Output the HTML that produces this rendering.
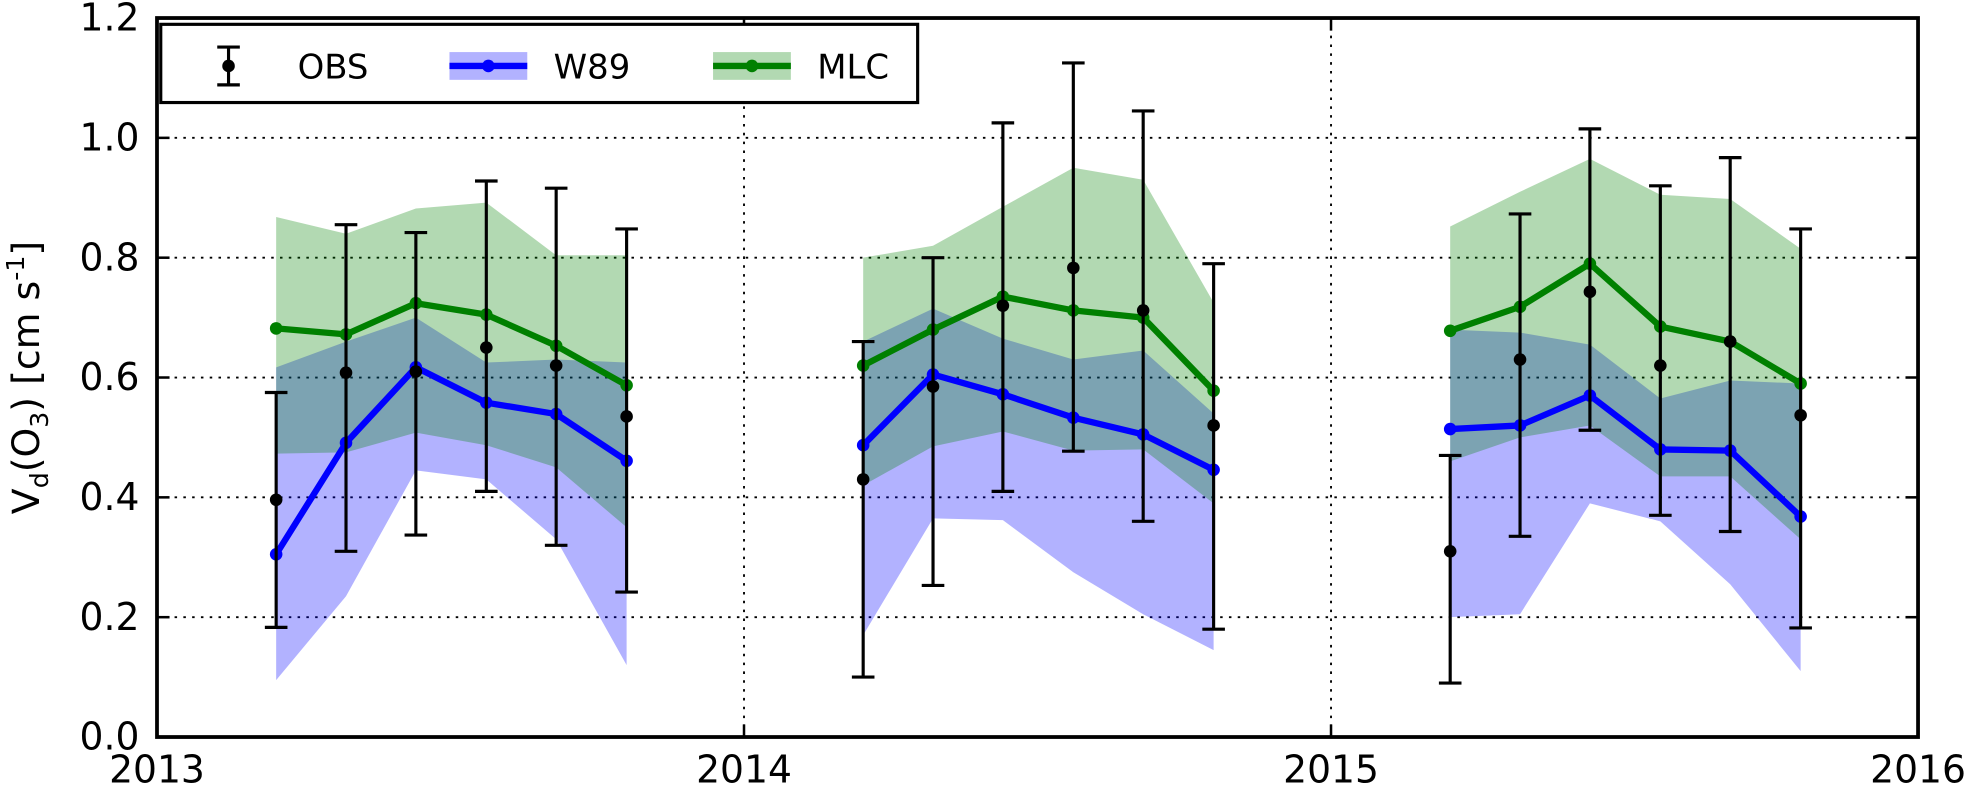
<!DOCTYPE html>
<html><head><meta charset="utf-8"><style>
body{margin:0;background:#fff}
svg{display:block;font-family:"DejaVu Sans","Liberation Sans",sans-serif}
</style></head><body>
<svg id="chart" width="1968" height="786" viewBox="0 0 1968 786">
<g transform="translate(1.35,-0.9) scale(1.2552,1.2614)">
<g id="grid"></g>
<g id="bands"></g>
<g id="lines"></g>
<g id="obs"></g>
<rect x="124" y="15" width="1403" height="570" fill="none" stroke="#000" stroke-width="3"/>
<g id="ticks"></g>
<text transform="translate(30,300) rotate(-90)" text-anchor="middle" font-size="30">V<tspan font-size="20" dy="7">d</tspan><tspan dy="-7">(O</tspan><tspan font-size="20" dy="7">3</tspan><tspan dy="-7">) [cm s</tspan><tspan font-size="20" dy="-12">-1</tspan><tspan dy="12">]</tspan></text>
<g>
<rect x="127" y="20" width="603" height="62" fill="#fff" stroke="#000" stroke-width="2.5"/>
<g>
<line x1="181" y1="38" x2="181" y2="68" stroke="#000" stroke-width="2.5"/><line x1="172" y1="38" x2="190" y2="38" stroke="#000" stroke-width="2.5"/><line x1="172" y1="68" x2="190" y2="68" stroke="#000" stroke-width="2.5"/><circle cx="181" cy="53" r="5"/>
<text x="236" y="63" font-size="27">OBS</text></g>
<g>
<rect x="357" y="42" width="62" height="22" fill="#0000ff" fill-opacity="0.3"/><line x1="357" y1="53" x2="419" y2="53" stroke="#0000ff" stroke-width="5"/><circle cx="388" cy="53" r="5" fill="#0000ff"/>
<text x="440" y="63" font-size="27">W89</text></g>
<g>
<rect x="567" y="42" width="62" height="22" fill="#008000" fill-opacity="0.3"/><line x1="567" y1="53" x2="629" y2="53" stroke="#008000" stroke-width="5"/><circle cx="598" cy="53" r="5" fill="#008000"/>
<text x="650" y="63" font-size="27">MLC</text></g>
</g>
</g>
</svg>
<script>
const years=[2013,2014,2015];
const monthOffsets=[0.203,0.322,0.441,0.561,0.680,0.800];
const mlc=[[0.682,0.672,0.724,0.705,0.653,0.587],[0.62,0.68,0.735,0.712,0.70,0.578],[0.678,0.718,0.79,0.685,0.66,0.59]];
const mlcHi=[[0.868,0.84,0.882,0.892,0.804,0.804],[0.80,0.82,0.885,0.95,0.93,0.725],[0.852,0.91,0.965,0.905,0.898,0.815]];
const mlcLo=[[0.473,0.475,0.508,0.487,0.45,0.35],[0.42,0.485,0.51,0.478,0.48,0.39],[0.46,0.50,0.52,0.435,0.435,0.33]];
const w89=[[0.305,0.491,0.617,0.558,0.539,0.461],[0.487,0.605,0.572,0.533,0.505,0.446],[0.514,0.52,0.57,0.48,0.478,0.368]];
const w89Hi=[[0.617,0.66,0.70,0.625,0.63,0.625],[0.66,0.715,0.665,0.63,0.645,0.54],[0.68,0.675,0.655,0.565,0.595,0.59]];
const w89Lo=[[0.095,0.235,0.445,0.43,0.33,0.12],[0.17,0.365,0.362,0.275,0.205,0.145],[0.20,0.205,0.39,0.36,0.255,0.11]];
const obs=[[0.396,0.608,0.61,0.65,0.62,0.535],[0.43,0.585,0.72,0.783,0.712,0.52],[0.31,0.63,0.743,0.62,0.66,0.537]];
const obsHi=[[0.575,0.855,0.842,0.928,0.916,0.848],[0.66,0.80,1.025,1.125,1.045,0.79],[0.47,0.873,1.015,0.92,0.967,0.848]];
const obsLo=[[0.183,0.31,0.337,0.41,0.32,0.242],[0.10,0.253,0.41,0.477,0.36,0.18],[0.09,0.335,0.512,0.37,0.343,0.182]];
const yTicks=[0.0,0.2,0.4,0.6,0.8,1.0,1.2];
const xTicks=[2013,2014,2015,2016];
const X=t=>124+(t-2013)*(1403/3);
const Y=v=>585-v*475;
const NS='http://www.w3.org/2000/svg';
function mk(p,tag,a){const e=document.createElementNS(NS,tag);for(const k in a)e.setAttribute(k,a[k]);document.getElementById(p).appendChild(e);return e;}
yTicks.forEach(v=>{
  if(v>0&&v<1.2){const g=mk('grid','line',{x1:124,x2:1527,y1:Y(v),y2:Y(v),stroke:'#000','stroke-width':1.5,'stroke-dasharray':'2,5'});
  
  }
  const t=mk('ticks','text',{x:110,y:Y(v)+10,'text-anchor':'end','font-size':30});t.textContent=v.toFixed(1);
  
  
  mk('ticks','line',{x1:124,x2:134,y1:Y(v),y2:Y(v),stroke:'#000','stroke-width':2});
  mk('ticks','line',{x1:1517,x2:1527,y1:Y(v),y2:Y(v),stroke:'#000','stroke-width':2});
});
xTicks.forEach(yr=>{
  if(yr>2013&&yr<2016){const g=mk('grid','line',{x1:X(yr),x2:X(yr),y1:15,y2:585,stroke:'#000','stroke-width':1.5,'stroke-dasharray':'2,5'});
  
  }
  const t=mk('ticks','text',{x:X(yr),y:621,'text-anchor':'middle','font-size':30});t.textContent=yr;
  
  
  mk('ticks','line',{x1:X(yr),x2:X(yr),y1:585,y2:575,stroke:'#000','stroke-width':2});
  mk('ticks','line',{x1:X(yr),x2:X(yr),y1:15,y2:25,stroke:'#000','stroke-width':2});
});
years.forEach((yr,i)=>{
  const xs=monthOffsets.map(m=>X(yr+m));
  const band=(hi,lo,col,name)=>{
    const pts=xs.map((x,j)=>x+','+Y(hi[i][j])).concat(xs.slice().reverse().map((x,j)=>x+','+Y(lo[i][5-j])));
    const p=mk('bands','polygon',{points:pts.join(' '),fill:col,'fill-opacity':0.3});
    
    
  };
  band(w89Hi,w89Lo,'#0000ff','w89-band');
  band(mlcHi,mlcLo,'#008000','mlc-band');
  const line=(d,col,name)=>{
    const l=mk('lines','polyline',{points:xs.map((x,j)=>x+','+Y(d[i][j])).join(' '),fill:'none',stroke:col,'stroke-width':5,'stroke-linejoin':'round'});
    
    
    xs.forEach((x,j)=>{const c=mk('lines','circle',{cx:x,cy:Y(d[i][j]),r:5,fill:col});
      
      });
  };
  line(w89,'#0000ff','w89-line');
  line(mlc,'#008000','mlc-line');
  xs.forEach((x,j)=>{
    const h=Y(obsHi[i][j]),l=Y(obsLo[i][j]);
    const e=mk('obs','path',{d:`M${x},${h}V${l}M${x-9},${h}H${x+9}M${x-9},${l}H${x+9}`,stroke:'#000','stroke-width':2.5,fill:'none'});
    
    
    const c=mk('obs','circle',{cx:x,cy:Y(obs[i][j]),r:5,fill:'#000'});
    
    
  });
});
</script>
</body></html>
